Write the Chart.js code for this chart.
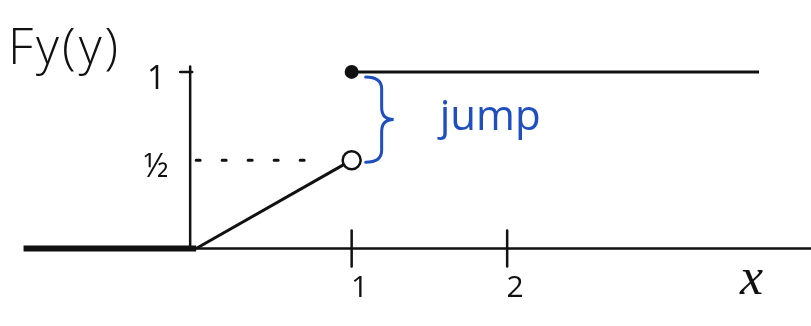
<!DOCTYPE html>
<html>
<head>
<meta charset="utf-8">
<script src="https://cdn.jsdelivr.net/npm/chart.js@4.4.1/dist/chart.umd.min.js"></script>
<style>
  html, body { margin: 0; padding: 0; background: #fff; }
  canvas { display: block; }
</style>
</head>
<body>
<canvas id="cdf" width="811" height="326"></canvas>
<script>
// CDF with a jump at x = 1
const zeroX = [-1.11, 0];      // F = 0 to the left of the origin
const zeroY = [0, 0];
const rampX = [0, 1];          // linear part, up to (but not incl.) the jump
const rampY = [0, 0.5];
const flatX = [1, 3.62];       // after the jump F stays at 1
const flatY = [1, 1];
const guideX = [0, 0.78];      // dotted guide from the 1/2 level
const guideY = [0.5, 0.5];
const openX = [1], openY = [0.5];
const closedX = [1], closedY = [1];

const xTicks = [1, 2];
const xTickLabels = ["1", "2"];
const yTicks = [1, 0.5];
const yTickLabels = ["1", "½"];

const ink = "#111";
const blue = "#1f4fbf";

const pts = (xs, ys) => xs.map((x, i) => ({ x: x, y: ys[i] }));

// axes, ticks, labels and the brace, all placed via the scales
const sketch = {
  id: "sketch",
  beforeDatasetsDraw(chart) {
    const { ctx, scales: { x, y } } = chart;
    const x0 = x.getPixelForValue(0), y0 = y.getPixelForValue(0);
    ctx.save();
    ctx.strokeStyle = ink;
    ctx.lineWidth = 2.5;
    ctx.lineCap = "round";
    ctx.beginPath();
    ctx.moveTo(x0, y0);
    ctx.lineTo(chart.width, y0);
    ctx.moveTo(x0 - 6, y0);
    ctx.lineTo(x0 - 6, y.getPixelForValue(1.03));
    ctx.stroke();

    xTicks.forEach(v => {
      const px = x.getPixelForValue(v);
      ctx.beginPath();
      ctx.moveTo(px, y0 - 18);
      ctx.lineTo(px, y0 + 18);
      ctx.stroke();
    });
    const py1 = y.getPixelForValue(1);
    ctx.beginPath();
    ctx.moveTo(x0 - 16, py1);
    ctx.lineTo(x0 - 4, py1);
    ctx.stroke();
    ctx.restore();
  },
  afterDatasetsDraw(chart) {
    const { ctx, scales: { x, y } } = chart;
    const x0 = x.getPixelForValue(0), y0 = y.getPixelForValue(0);
    ctx.save();
    ctx.fillStyle = ink;
    ctx.textAlign = "center";
    ctx.textBaseline = "middle";

    ctx.font = "30px 'Open Sans'";
    xTicks.forEach((v, i) => {
      ctx.fillText(xTickLabels[i], x.getPixelForValue(v) + 8, y0 + 40);
    });
    ctx.font = "32px 'Open Sans'";
    yTicks.forEach((v, i) => {
      ctx.fillText(yTickLabels[i], x0 - 40, y.getPixelForValue(v) + 8);
    });

    ctx.textAlign = "left";
    ctx.font = "300 50px 'Open Sans'";
    ctx.letterSpacing = "3px";
    ctx.fillText("Fy(y)", 8, 50);
    ctx.letterSpacing = "0px";

    ctx.font = "italic 52px 'Liberation Serif'";
    ctx.fillText("x", 740, 280);

    // brace marking the jump
    const bx = x.getPixelForValue(1) + 14;
    const top = y.getPixelForValue(1) + 5;
    const bot = y.getPixelForValue(0.5) + 2;
    const mid = (top + bot) / 2;
    const xa = bx + 16, xt = bx + 28, r = 12;
    ctx.strokeStyle = blue;
    ctx.lineWidth = 3;
    ctx.lineCap = "round";
    ctx.beginPath();
    ctx.moveTo(bx, top);
    ctx.quadraticCurveTo(xa, top, xa, top + r);
    ctx.lineTo(xa, mid - r);
    ctx.quadraticCurveTo(xa, mid, xt, mid);
    ctx.quadraticCurveTo(xa, mid, xa, mid + r);
    ctx.lineTo(xa, bot - r);
    ctx.quadraticCurveTo(xa, bot, bx, bot);
    ctx.stroke();

    ctx.fillStyle = blue;
    ctx.font = "42px 'Open Sans'";
    ctx.fillText("jump", bx + 74, mid - 2);
    ctx.restore();
  }
};

new Chart(document.getElementById("cdf"), {
  type: "scatter",
  data: {
    datasets: [
      {
        data: pts(openX, openY),
        pointRadius: 9,
        pointBorderWidth: 2.5,
        pointBorderColor: ink,
        pointBackgroundColor: "#fff"
      },
      {
        data: pts(closedX, closedY),
        pointRadius: 7,
        pointBorderWidth: 0,
        pointBackgroundColor: ink
      },
      {
        data: pts(rampX, rampY),
        showLine: true,
        borderColor: ink,
        borderWidth: 3,
        pointRadius: 0
      },
      {
        data: pts(flatX, flatY),
        showLine: true,
        borderColor: ink,
        borderWidth: 3,
        pointRadius: 0
      },
      {
        data: pts(guideX, guideY),
        showLine: true,
        borderColor: ink,
        borderWidth: 3,
        borderDash: [4, 22],
        borderCapStyle: "round",
        pointRadius: 0
      },
      {
        data: pts(zeroX, zeroY),
        showLine: true,
        borderColor: ink,
        borderWidth: 6,
        pointRadius: 0
      }
    ]
  },
  options: {
    responsive: false,
    animation: false,
    layout: { padding: 0 },
    scales: {
      x: { type: "linear", display: false, min: -1.1875, max: 3.88 },
      y: { type: "linear", display: false, min: -0.374, max: 1.342 }
    },
    plugins: {
      legend: { display: false },
      tooltip: { enabled: false }
    }
  },
  plugins: [sketch]
});
</script>
</body>
</html>
